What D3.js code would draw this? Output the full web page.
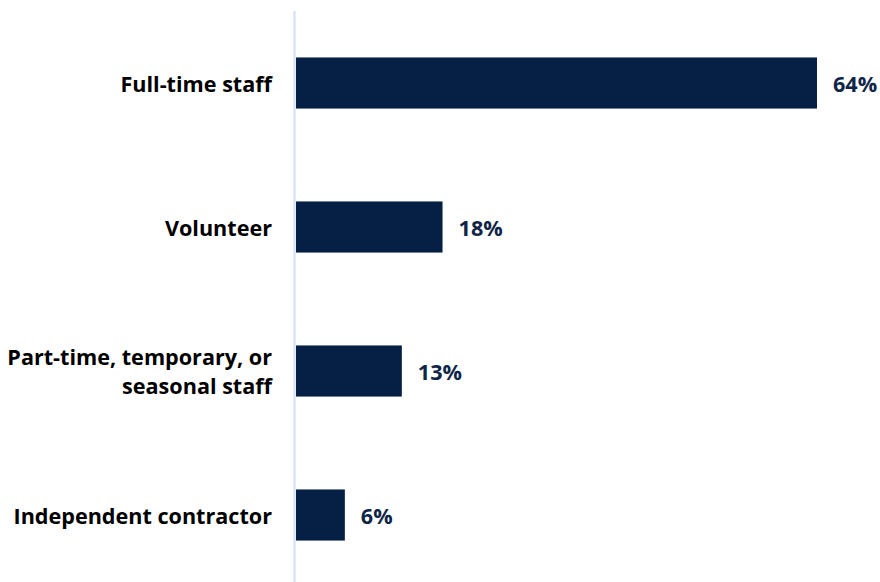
<!DOCTYPE html>
<html>
<head>
<meta charset="utf-8">
<script src="https://cdn.jsdelivr.net/npm/d3@7"></script>
<style>
  html, body { margin: 0; padding: 0; background: #ffffff; }
  svg { display: block; }
  text { font-family: "Open Sans", "Liberation Sans", sans-serif; font-weight: 700; }
</style>
</head>
<body>
<script>
// Worker types and the share of respondents for each
const categories = [
  ["Full-time staff"],
  ["Volunteer"],
  ["Part-time, temporary, or", "seasonal staff"],
  ["Independent contractor"]
];
const values = [64, 18, 13, 6];
const valueLabels = ["64%", "18%", "13%", "6%"];

const width = 880, height = 582;
const barColor = "#061f45";
const labelColor = "#0e2548";
const axisColor = "#cfe0fb";
const fontSize = 21.6;

const svg = d3.select("body").append("svg")
  .attr("width", width)
  .attr("height", height);

const keys = categories.map((c, i) => i);

const y = d3.scaleBand()
  .domain(keys)
  .range([11, 587])
  .paddingInner(0.645)
  .paddingOuter(0.3225);

const x = d3.scaleLinear()
  .domain([0, 64])
  .range([296, 817]);

// Bars
svg.append("g").selectAll("rect")
  .data(values)
  .join("rect")
  .attr("x", x(0))
  .attr("y", (d, i) => y(i))
  .attr("width", d => x(d) - x(0))
  .attr("height", y.bandwidth())
  .attr("fill", barColor);

// Vertical baseline
svg.append("line")
  .attr("x1", 294.5).attr("x2", 294.5)
  .attr("y1", 11).attr("y2", height)
  .attr("stroke", axisColor)
  .attr("stroke-width", 2);

// Category labels
const lineH = 29;
svg.append("g").selectAll("text")
  .data(categories)
  .join("text")
  .attr("text-anchor", "end")
  .attr("font-size", fontSize)
  .attr("fill", "#000000")
  .attr("x", 272)
  .attr("y", (d, i) => y(i) + y.bandwidth() / 2)
  .each(function(lines) {
    const t = d3.select(this);
    const start = -(lines.length - 1) / 2 * lineH;
    lines.forEach((ln, j) => {
      t.append("tspan")
        .attr("x", 272)
        .attr("dy", j === 0 ? start : lineH)
        .attr("dominant-baseline", "central")
        .text(ln);
    });
  });

// Value labels
svg.append("g").selectAll("text")
  .data(values)
  .join("text")
  .attr("font-size", fontSize)
  .attr("fill", labelColor)
  .attr("x", d => x(d) + 16)
  .attr("y", (d, i) => y(i) + y.bandwidth() / 2)
  .attr("dominant-baseline", "central")
  .text((d, i) => valueLabels[i]);
</script>
</body>
</html>
